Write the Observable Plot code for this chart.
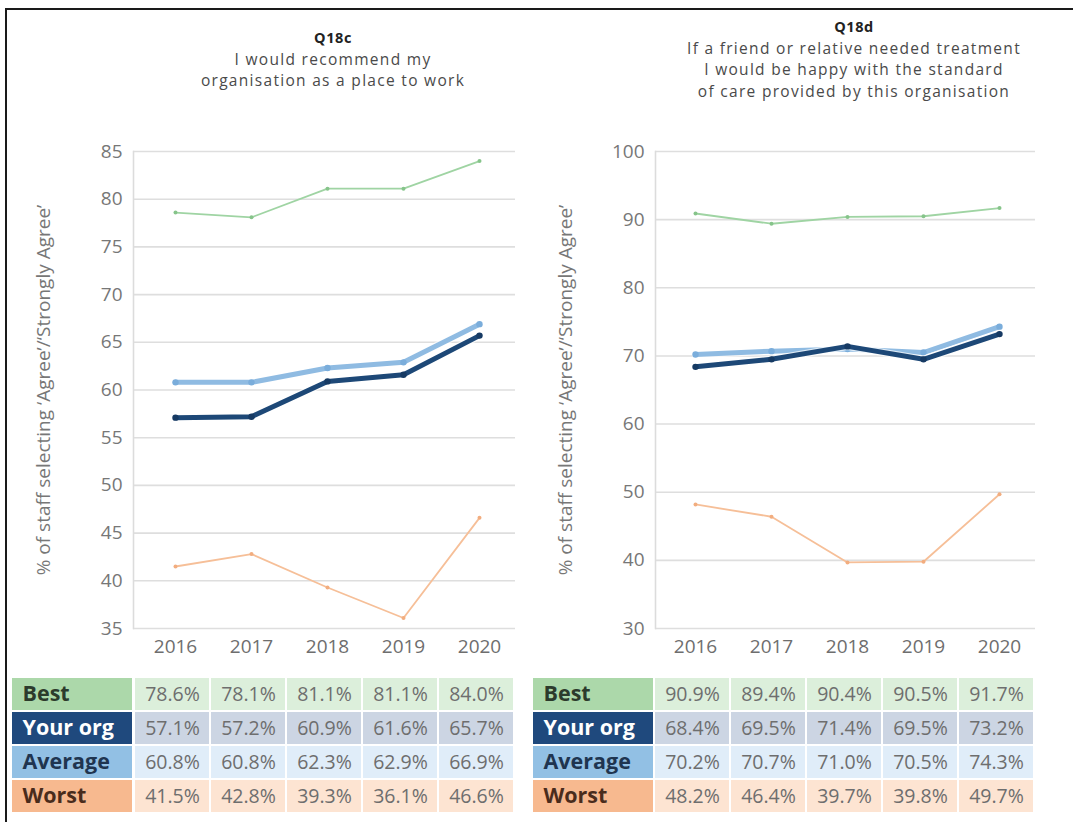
<!DOCTYPE html>
<html>
<head>
<meta charset="utf-8">
<script src="https://cdn.jsdelivr.net/npm/d3@7"></script>
<script src="https://cdn.jsdelivr.net/npm/@observablehq/plot@0.6"></script>
<style>
  body { margin: 0; background: #fff; font-family: "Open Sans", "Noto Sans", sans-serif; }
  #page { position: relative; width: 1073px; height: 822px; overflow: hidden; background: #fff; }
  .border { position: absolute; left: 5px; top: 8px; right: -4px; bottom: -4px; border-left: 2px solid #1a1a1a; border-top: 2px solid #1a1a1a; }
  .box { position: absolute; }
  .title { position: absolute; text-align: center; color: #4a4a4a; font-size: 15.5px; line-height: 21.5px; letter-spacing: 1.3px; white-space: nowrap; }
  .title b { display: block; color: #222; font-size: 14.5px; letter-spacing: 0.6px; }
  svg { overflow: visible; }
</style>
</head>
<body>
<div id="page">
  <div class="border"></div>
  <div class="title" style="left:133px; top:27px; width:400px;"><b>Q18c</b>I would recommend my<br>organisation as a place to work</div>
  <div class="title" style="left:654px; top:16px; width:400px;"><b>Q18d</b>If a friend or relative needed treatment<br>I would be happy with the standard<br>of care provided by this organisation</div>
  <div class="box" id="chartC" style="left:10px; top:130px;"></div>
  <div class="box" id="chartD" style="left:530px; top:130px;"></div>
  <div class="box" id="labelsC" style="left:12px; top:678px;"></div>
  <div class="box" id="valuesC" style="left:133px; top:678px;"></div>
  <div class="box" id="labelsD" style="left:533px; top:678px;"></div>
  <div class="box" id="valuesD" style="left:653px; top:678px;"></div>
</div>
<script>
// Survey years and comparison groups
const years = ["2016", "2017", "2018", "2019", "2020"];
const groups = ["Best", "Your org", "Average", "Worst"];

// Q18c: recommend organisation as a place to work (% agree)
const q18cBest = [78.6, 78.1, 81.1, 81.1, 84.0];
const q18cOrg = [57.1, 57.2, 60.9, 61.6, 65.7];
const q18cAverage = [60.8, 60.8, 62.3, 62.9, 66.9];
const q18cWorst = [41.5, 42.8, 39.3, 36.1, 46.6];

// Q18d: happy with standard of care for friend/relative (% agree)
const q18dBest = [90.9, 89.4, 90.4, 90.5, 91.7];
const q18dOrg = [68.4, 69.5, 71.4, 69.5, 73.2];
const q18dAverage = [70.2, 70.7, 71.0, 70.5, 74.3];
const q18dWorst = [48.2, 46.4, 39.7, 39.8, 49.7];

// Axis ticks
const q18cTicks = [35, 40, 45, 50, 55, 60, 65, 70, 75, 80, 85];
const q18dTicks = [30, 40, 50, 60, 70, 80, 90, 100];

const yLabel = "% of staff selecting \u2018Agree\u2019/\u2018Strongly Agree\u2019";
const font = "'Open Sans', 'Noto Sans', sans-serif";

const style = {
  "Best":     {line: "#9fd4a3", dot: "#86c48a", width: 1.8, label: "#acd8aa", labelText: "#2c3b2c", cell: "#dcefdb"},
  "Your org": {line: "#1d4877", dot: "#163a63", width: 5,   label: "#1f497d", labelText: "#ffffff", cell: "#ccd5e3"},
  "Average":  {line: "#8fbbe2", dot: "#7aaddb", width: 5,   label: "#92c0e4", labelText: "#1f3550", cell: "#e0edf9"},
  "Worst":    {line: "#f6bf98", dot: "#f2ad7f", width: 1.8, label: "#f7b98f", labelText: "#4a2c1c", cell: "#fde4d2"}
};

function rows(series) {
  return groups.flatMap((g, gi) => years.map((y, i) => ({group: g, year: y, value: series[gi][i]})));
}

function lineChart(series, domain, ticks, marginLeft) {
  const data = rows(series);
  // thin lines first, then Average, then Your org on top
  const order = ["Best", "Worst", "Average", "Your org"];
  const marks = [
    Plot.gridY(ticks, {stroke: "#dedede", strokeWidth: 1.6, strokeOpacity: 1}),
    Plot.frame({anchor: "left", stroke: "#dcdcdc", strokeWidth: 1.6}),
    Plot.axisY(ticks, {
      tickSize: 0, tickPadding: 11, fontSize: 19, fill: "#777777",
      label: yLabel, labelAnchor: "center", labelOffset: 97, labelArrow: false
    }),
    Plot.axisX({tickSize: 0, tickPadding: 11, fontSize: 19, fill: "#6e6e6e", letterSpacing: "1.2px", label: null})
  ];
  for (const g of order) {
    const d = data.filter(r => r.group === g);
    if (g === "Average" || g === "Your org") {
      marks.push(Plot.line(d, {x: "year", y: "value", stroke: "#ffffff", strokeWidth: style[g].width + 2.5, strokeOpacity: 0.7}));
    }
    marks.push(Plot.line(d, {x: "year", y: "value", stroke: style[g].line, strokeWidth: style[g].width}));
    marks.push(Plot.dot(d, {x: "year", y: "value", fill: style[g].dot, r: g === "Your org" || g === "Average" ? 3.2 : 2}));
  }
  return Plot.plot({
    width: 510,
    height: 540,
    marginLeft,
    marginRight: 5,
    marginTop: 21,
    marginBottom: 42,
    style: {fontFamily: font, fontSize: "16.5px", color: "#6a6a6a", background: "transparent"},
    x: {type: "point", domain: years, range: [163, 470], padding: 0},
    y: {domain, ticks},
    marks
  });
}

function labelTable() {
  return Plot.plot({
    width: 120,
    height: 134,
    margin: 0,
    style: {fontFamily: font, background: "transparent"},
    y: {type: "band", domain: groups, paddingInner: 0.06, paddingOuter: 0, axis: null},
    color: {type: "identity"},
    marks: [
      Plot.cell(groups, {y: d => d, fill: d => style[d].label}),
      Plot.text(groups, {y: d => d, text: d => d, frameAnchor: "left", dx: 10, fill: d => style[d].labelText,
        fontSize: 21.5, fontWeight: "bold", letterSpacing: "0.2px"})
    ]
  });
}

function valueTable(series) {
  const data = rows(series);
  return Plot.plot({
    width: 382,
    height: 134,
    margin: 0,
    style: {fontFamily: font, background: "transparent"},
    x: {type: "band", domain: years, paddingInner: 0.02, paddingOuter: 0.01, axis: null},
    y: {type: "band", domain: groups, paddingInner: 0.06, paddingOuter: 0, axis: null},
    color: {type: "identity"},
    marks: [
      Plot.cell(data, {x: "year", y: "group", fill: d => style[d.group].cell}),
      Plot.text(data, {x: "year", y: "group", text: d => d.value.toFixed(1) + "%", fill: "#6e6e6e",
        fontSize: 19.5, letterSpacing: "0.2px"})
    ]
  });
}

const seriesC = [q18cBest, q18cOrg, q18cAverage, q18cWorst];
const seriesD = [q18dBest, q18dOrg, q18dAverage, q18dWorst];

document.getElementById("chartC").append(lineChart(seriesC, [35, 85], q18cTicks, 123));
document.getElementById("chartD").append(lineChart(seriesD, [30, 100], q18dTicks, 125));
document.getElementById("labelsC").append(labelTable());
document.getElementById("valuesC").append(valueTable(seriesC));
document.getElementById("labelsD").append(labelTable());
document.getElementById("valuesD").append(valueTable(seriesD));
</script>
</body>
</html>
